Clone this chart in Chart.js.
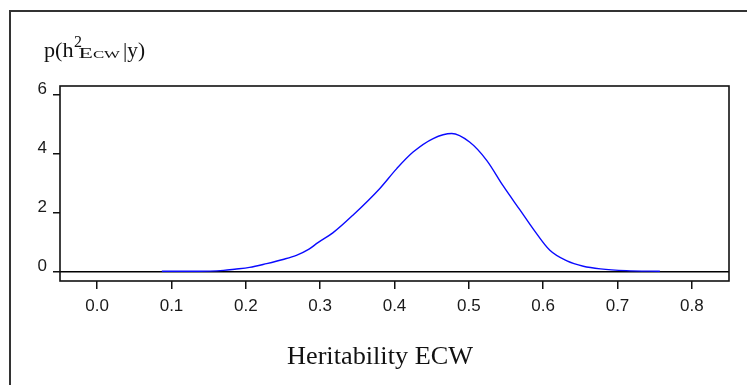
<!DOCTYPE html>
<html>
<head>
<meta charset="utf-8">
<script src="https://cdn.jsdelivr.net/npm/chart.js@4/dist/chart.umd.min.js"></script>
<style>
  html, body { margin: 0; padding: 0; background: #ffffff; }
  canvas { display: block; }
</style>
</head>
<body>
<canvas id="c" width="747" height="385"></canvas>
<script>
// ---- data ----
const heritability = [0.087, 0.13, 0.152, 0.17, 0.185, 0.205, 0.228, 0.25, 0.268, 0.285, 0.297, 0.317, 0.344, 0.38, 0.403, 0.425, 0.452, 0.477, 0.501, 0.524, 0.546, 0.569, 0.587, 0.609, 0.632, 0.654, 0.677, 0.712, 0.757];
const density      = [0.0,   0.0,  0.005, 0.03, 0.07,  0.13,  0.26,  0.40, 0.54,  0.75,  0.97,  1.30,  1.90,  2.80, 3.48,  4.04,  4.50,  4.67,  4.38,  3.76,  2.90,  2.07,  1.42,  0.71,  0.35,  0.17,  0.08,  0.02,  0.0];
const xTickValues  = [0.0, 0.1, 0.2, 0.3, 0.4, 0.5, 0.6, 0.7, 0.8];
const yTickValues  = [0, 2, 4, 6];
const xTitle = 'Heritability ECW';

function fitText(ctx, text, font, x, y, w) {
  ctx.font = font;
  const m = ctx.measureText(text).width;
  ctx.save();
  ctx.translate(x, y);
  ctx.scale(w / m, 1);
  ctx.textAlign = 'left';
  ctx.textBaseline = 'alphabetic';
  ctx.fillText(text, 0, 0);
  ctx.restore();
}

const decor = {
  id: 'decor',
  beforeDraw(chart) {
    const ctx = chart.ctx;
    ctx.save();
    ctx.fillStyle = '#ffffff';
    ctx.fillRect(0, 0, chart.width, chart.height);
    ctx.strokeStyle = '#333';
    ctx.lineWidth = 2;
    ctx.beginPath();
    ctx.moveTo(10, chart.height);
    ctx.lineTo(10, 11);
    ctx.lineTo(chart.width, 11);
    ctx.stroke();
    ctx.restore();
  },
  afterDraw(chart) {
    const ctx = chart.ctx;
    const a = chart.chartArea;
    ctx.save();
    ctx.strokeStyle = '#111';
    ctx.lineWidth = 1.6;
    ctx.strokeRect(a.left, a.top, a.right - a.left, a.bottom - a.top);
    ctx.fillStyle = '#111';
    // y-axis label p(h^2_Ecw|y)
    fitText(ctx, 'p(h', '22px "Liberation Serif"', 44, 57, 29.5);
    fitText(ctx, '2', '17px "Liberation Serif"', 74, 47, 8);
    fitText(ctx, 'Ecw', 'small-caps 14px "Liberation Serif"', 78.5, 57.5, 41.5);
    fitText(ctx, '|y)', '22px "Liberation Serif"', 123, 57, 22);
    // x-axis title
    fitText(ctx, xTitle, '26px "Liberation Serif"', 287, 364, 186);
    ctx.restore();
  }
};

new Chart(document.getElementById('c'), {
  type: 'line',
  data: {
    datasets: [{
      data: heritability.map((h, i) => ({ x: h, y: density[i] })),
      borderColor: '#0a0aff',
      borderWidth: 1.4,
      pointRadius: 0,
      fill: false,
      tension: 0.4,
      cubicInterpolationMode: 'monotone'
    }]
  },
  options: {
    responsive: false,
    animation: false,
    layout: { padding: { left: 0, top: 86, right: 18, bottom: 0 } },
    plugins: { legend: { display: false }, tooltip: { enabled: false }, title: { display: false } },
    scales: {
      x: {
        type: 'linear',
        min: -0.05,
        max: 0.85,
        afterBuildTicks: s => { s.ticks = xTickValues.map(v => ({ value: v })); },
        afterFit: s => { s.height = 104; },
        border: { display: false },
        grid: { drawOnChartArea: false, drawTicks: true, tickLength: 8, tickColor: '#111', lineWidth: 1.5 },
        ticks: {
          font: { family: 'Liberation Sans', size: 17 },
          color: '#1a1a1a',
          padding: 7,
          maxRotation: 0,
          autoSkip: false,
          callback: v => Number(v).toFixed(1)
        }
      },
      y: {
        type: 'linear',
        min: -0.33,
        max: 6.28,
        afterBuildTicks: s => { s.ticks = yTickValues.map(v => ({ value: v })); },
        afterFit: s => { s.width = 60; },
        border: { display: false },
        grid: {
          color: c => (c.tick && c.tick.value === 0) ? '#000' : 'rgba(0,0,0,0)',
          lineWidth: 1.5,
          drawTicks: true,
          tickLength: 7,
          tickColor: '#111'
        },
        ticks: {
          font: { family: 'Liberation Sans', size: 17 },
          color: '#1a1a1a',
          padding: 6,
          labelOffset: -4.5,
          callback: v => String(v)
        }
      }
    }
  },
  plugins: [decor]
});
</script>
</body>
</html>
